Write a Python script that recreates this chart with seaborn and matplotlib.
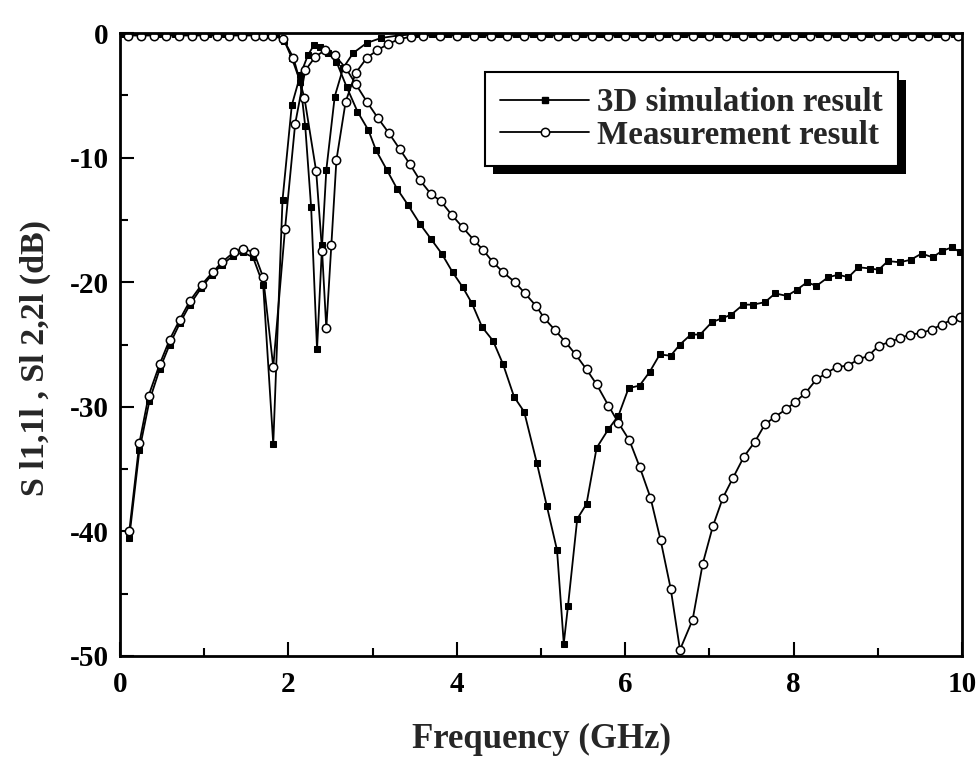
import matplotlib
matplotlib.use('Agg')
import matplotlib.pyplot as plt
import seaborn as sns
from matplotlib.lines import Line2D
from matplotlib.patches import Rectangle
from matplotlib.ticker import MultipleLocator

# --- data (GHz, dB) ---
# 3D simulation, transmission
sim_s21_f = [0.11, 0.23, 0.35, 0.47, 0.59, 0.71, 0.83, 0.96, 1.09, 1.21, 1.34, 1.46, 1.58, 1.70, 1.82,
             1.93, 2.04, 2.14, 2.23, 2.30, 2.38, 2.47, 2.57, 2.69, 2.82, 2.95, 3.04, 3.17, 3.29, 3.42,
             3.56, 3.69, 3.82, 3.95, 4.07, 4.18, 4.30, 4.43, 4.55, 4.68, 4.80, 4.95, 5.07, 5.19, 5.27,
             5.32, 5.43, 5.54, 5.66, 5.80, 5.92, 6.04, 6.17, 6.29, 6.41, 6.54, 6.65, 6.78, 6.89, 7.03,
             7.15, 7.26, 7.40, 7.52, 7.66, 7.78, 7.92, 8.04, 8.16, 8.27, 8.41, 8.53, 8.65, 8.77, 8.91,
             9.01, 9.12, 9.26, 9.39, 9.52, 9.65, 9.76, 9.88, 9.98]
sim_s21_db = [-40.5, -33.5, -29.5, -27.0, -25.0, -23.3, -21.8, -20.5, -19.4, -18.6, -17.9, -17.6, -18.0, -20.2, -33.0,
              -13.4, -5.8, -3.4, -1.8, -1.0, -1.1, -1.6, -2.3, -4.3, -6.3, -7.8, -9.4, -11.0, -12.5, -13.8,
              -15.3, -16.5, -17.7, -19.2, -20.4, -21.7, -23.6, -24.7, -26.6, -29.2, -30.4, -34.5, -38.0, -41.5, -49.0,
              -46.0, -39.0, -37.8, -33.3, -31.8, -30.7, -28.5, -28.3, -27.2, -25.8, -25.9, -25.0, -24.2, -24.2, -23.2,
              -22.9, -22.6, -21.8, -21.8, -21.6, -20.9, -21.1, -20.6, -20.0, -20.3, -19.6, -19.4, -19.6, -18.8, -18.9,
              -19.0, -18.3, -18.4, -18.2, -17.7, -18.0, -17.5, -17.2, -17.6]

# measurement, transmission
meas_s21_f = [0.11, 0.23, 0.34, 0.47, 0.59, 0.71, 0.83, 0.97, 1.10, 1.21, 1.35, 1.46, 1.59, 1.70, 1.82,
              1.96, 2.08, 2.20, 2.32, 2.43, 2.55, 2.68, 2.80, 2.93, 3.06, 3.19, 3.32, 3.44, 3.56, 3.69,
              3.81, 3.94, 4.07, 4.20, 4.31, 4.43, 4.55, 4.69, 4.81, 4.94, 5.04, 5.16, 5.29, 5.41, 5.54,
              5.66, 5.80, 5.92, 6.05, 6.17, 6.30, 6.42, 6.54, 6.65, 6.80, 6.92, 7.04, 7.16, 7.28, 7.41,
              7.54, 7.66, 7.78, 7.91, 8.02, 8.14, 8.27, 8.39, 8.51, 8.64, 8.77, 8.89, 9.01, 9.14, 9.26,
              9.38, 9.51, 9.64, 9.76, 9.88, 9.98]
meas_s21_db = [-40.0, -32.9, -29.1, -26.6, -24.6, -23.0, -21.5, -20.2, -19.2, -18.4, -17.6, -17.3, -17.6, -19.6, -26.8,
               -15.7, -7.3, -3.0, -1.9, -1.4, -1.8, -2.8, -4.1, -5.5, -6.8, -8.0, -9.3, -10.5, -11.8, -12.9,
               -13.5, -14.6, -15.6, -16.6, -17.4, -18.4, -19.2, -20.0, -20.9, -21.9, -22.9, -23.8, -24.8, -25.8, -27.0,
               -28.2, -29.9, -31.3, -32.7, -34.8, -37.3, -40.7, -44.6, -49.5, -47.1, -42.6, -39.6, -37.3, -35.7, -34.0,
               -32.8, -31.4, -30.8, -30.2, -29.6, -28.9, -27.8, -27.3, -26.8, -26.7, -26.2, -25.9, -25.1, -24.8, -24.5,
               -24.2, -24.1, -23.8, -23.4, -23.0, -22.8]

# 3D simulation, reflection
sim_s11_f = [0.05, 0.25, 0.45, 0.65, 0.85, 1.05, 1.25, 1.45, 1.65, 1.85, 1.95, 2.04, 2.14, 2.20, 2.27,
             2.34, 2.40, 2.45, 2.55, 2.65, 2.77, 2.93, 3.10, 3.30, 3.50, 3.70, 3.90, 4.10, 4.30, 4.50,
             4.70, 4.90, 5.10, 5.30, 5.50, 5.70, 5.90, 6.10, 6.30, 6.50, 6.70, 6.90, 7.10, 7.30, 7.50,
             7.70, 7.90, 8.10, 8.30, 8.50, 8.70, 8.90, 9.10, 9.30, 9.50, 9.70, 9.90]
sim_s11_db = [-0.1, -0.1, -0.1, -0.1, -0.1, -0.1, -0.1, -0.1, -0.1, -0.1, -0.6, -2.0, -3.9, -7.5, -14.0,
              -25.4, -17.0, -11.0, -5.1, -2.8, -1.6, -0.8, -0.4, -0.2, -0.1, -0.1, -0.1, -0.1, -0.1, -0.1,
              -0.1, -0.1, -0.1, -0.1, -0.1, -0.1, -0.1, -0.1, -0.1, -0.1, -0.1, -0.1, -0.1, -0.1, -0.1,
              -0.1, -0.1, -0.1, -0.1, -0.1, -0.1, -0.1, -0.1, -0.1, -0.1, -0.1, -0.1]

# measurement, reflection
meas_s11_f = [0.10, 0.25, 0.40, 0.55, 0.70, 0.85, 1.00, 1.15, 1.30, 1.45, 1.60, 1.70, 1.81, 1.94, 2.06,
              2.19, 2.33, 2.40, 2.45, 2.51, 2.57, 2.68, 2.80, 2.93, 3.05, 3.18, 3.31, 3.45, 3.60, 3.80,
              4.00, 4.20, 4.40, 4.60, 4.80, 5.00, 5.20, 5.40, 5.60, 5.80, 6.00, 6.20, 6.40, 6.60, 6.80,
              7.00, 7.20, 7.40, 7.60, 7.80, 8.00, 8.20, 8.40, 8.60, 8.80, 9.00, 9.20, 9.40, 9.60, 9.80, 9.95]
meas_s11_db = [-0.2, -0.2, -0.2, -0.2, -0.2, -0.2, -0.2, -0.2, -0.2, -0.2, -0.2, -0.2, -0.2, -0.5, -2.0,
               -5.2, -11.1, -17.5, -23.7, -17.0, -10.2, -5.5, -3.2, -2.0, -1.4, -0.9, -0.5, -0.3, -0.2, -0.2,
               -0.2, -0.2, -0.2, -0.2, -0.2, -0.2, -0.2, -0.2, -0.2, -0.2, -0.2, -0.2, -0.2, -0.2, -0.2,
               -0.2, -0.2, -0.2, -0.2, -0.2, -0.2, -0.2, -0.2, -0.2, -0.2, -0.2, -0.2, -0.2, -0.2, -0.2, -0.2]

legend_labels = ['3D simulation result', 'Measurement result']

sns.set_style('ticks')
plt.rcParams['font.family'] = ['Liberation Serif', 'DejaVu Serif']
plt.rcParams['font.weight'] = 'bold'
plt.rcParams['axes.unicode_minus'] = False

fig = plt.figure(figsize=(9.78, 7.61), dpi=100)
ax = fig.add_axes([0.1227, 0.138, 0.861, 0.8186])

sim_kw = dict(color='black', linewidth=1.3, marker='s', markersize=4.5,
              markerfacecolor='black', markeredgecolor='black')
meas_kw = dict(color='black', linewidth=1.3, marker='o', markersize=6,
               markerfacecolor='white', markeredgecolor='black', markeredgewidth=1.1)

sns.lineplot(x=sim_s11_f, y=sim_s11_db, ax=ax, estimator=None, sort=False, **sim_kw)
sns.lineplot(x=sim_s21_f, y=sim_s21_db, ax=ax, estimator=None, sort=False, **sim_kw)
sns.lineplot(x=meas_s11_f, y=meas_s11_db, ax=ax, estimator=None, sort=False, **meas_kw)
sns.lineplot(x=meas_s21_f, y=meas_s21_db, ax=ax, estimator=None, sort=False, **meas_kw)

ax.set_xlim(0, 10)
ax.set_ylim(-50, 0)
ax.xaxis.set_major_locator(MultipleLocator(2))
ax.xaxis.set_minor_locator(MultipleLocator(1))
ax.yaxis.set_major_locator(MultipleLocator(10))
ax.yaxis.set_minor_locator(MultipleLocator(5))
ax.tick_params(which='both', direction='in', top=False, right=False, width=1.5, colors='black')
ax.tick_params(which='major', length=10, labelsize=21)
ax.tick_params(which='minor', length=6)
ax.tick_params(axis='x', pad=11)
ax.tick_params(axis='y', pad=8)
for s in ax.spines.values():
    s.set_linewidth(2)
    s.set_color('black')

ax.set_xlabel('Frequency (GHz)', fontsize=25, fontweight='bold', labelpad=18)
ax.set_ylabel('S l1,1l , Sl 2,2l (dB)', fontsize=24.5, fontweight='bold')
ax.yaxis.set_label_coords(-0.082, 0.478)

handles = [Line2D([], [], **sim_kw), Line2D([], [], **meas_kw)]
leg = ax.legend(handles, legend_labels, loc='upper right', bbox_to_anchor=(0.924, 0.937),
                frameon=True, fancybox=False, framealpha=1, edgecolor='black',
                prop={'weight': 'bold', 'size': 23.8}, handlelength=2.7,
                handletextpad=0.25, borderpad=0.45, labelspacing=0.05, borderaxespad=0)
leg.get_frame().set_linewidth(1.5)

# hard drop shadow behind the legend box
fig.canvas.draw()
bb = leg.get_window_extent()
inv = ax.transAxes.inverted()
x0, y0 = inv.transform((bb.x0 + 8, bb.y0 - 8))
x1, y1 = inv.transform((bb.x1 + 8, bb.y1 - 8))
ax.add_patch(Rectangle((x0, y0), x1 - x0, y1 - y0, transform=ax.transAxes,
                       facecolor='black', edgecolor='none', zorder=4.9, clip_on=False))

fig.savefig('out.png', dpi=100)
